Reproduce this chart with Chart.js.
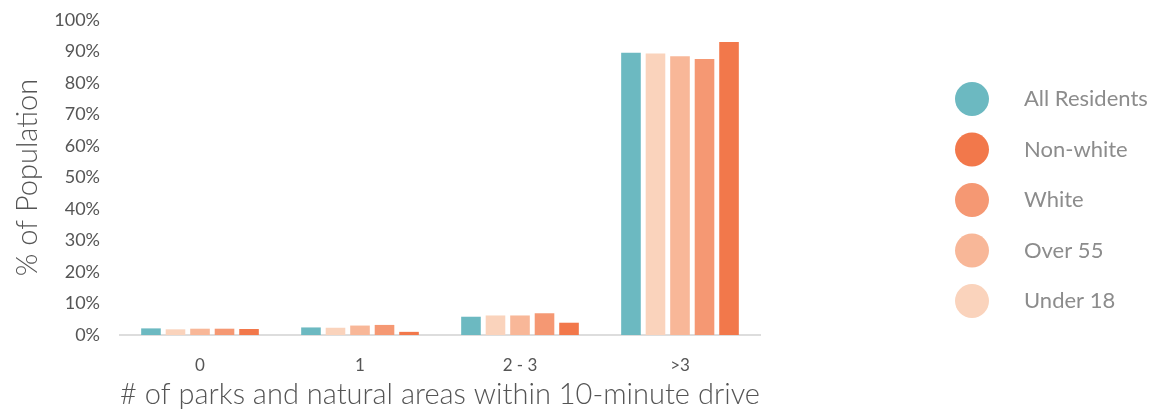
<!DOCTYPE html>
<html>
<head>
<meta charset="utf-8">
<script src="https://cdn.jsdelivr.net/npm/chart.js@4/dist/chart.umd.min.js"></script>
<style>
  body { margin: 0; background: #fff; }
  #wrap { position: relative; width: 1152px; height: 412px; }
</style>
</head>
<body>
<div id="wrap"><canvas id="parksChart"></canvas></div>
<script>
// data
const categories = ['0', '1', '2 - 3', '>3'];
const allResidents = [2.1, 2.4, 5.8, 89.6];
const under18 = [1.8, 2.3, 6.2, 89.4];
const over55 = [2.0, 3.0, 6.2, 88.5];
const white = [2.0, 3.2, 6.9, 87.6];
const nonWhite = [1.9, 1.0, 3.9, 93.0];
const legendOrder = ['All Residents', 'Non-white', 'White', 'Over 55', 'Under 18'];

const FONT = 'Lato';

// legend drawn at the right, big circles
const sideLegend = {
    id: 'sideLegend',
    afterDraw(chart) {
        const ctx = chart.ctx;
        ctx.save();
        legendOrder.forEach(function (name, i) {
            const ds = chart.data.datasets.find(d => d.label === name);
            const y = 99 + i * 50.5;
            ctx.beginPath();
            ctx.arc(972, y, 17, 0, Math.PI * 2);
            ctx.fillStyle = ds.backgroundColor;
            ctx.fill();
            ctx.font = '22px ' + FONT;
            ctx.fillStyle = '#8c8c8c';
            ctx.textBaseline = 'middle';
            ctx.textAlign = 'left';
            ctx.fillText(name, 1024, y);
        });
        ctx.restore();
    }
};

var ctx = document.getElementById('parksChart').getContext('2d');
var myChart = new Chart(ctx, {
    type: 'bar',
    data: {
        labels: categories,
        datasets: [
            { label: 'All Residents', backgroundColor: '#6cb9c1', data: allResidents },
            { label: 'Under 18', backgroundColor: '#fad3bc', data: under18 },
            { label: 'Over 55', backgroundColor: '#f8b798', data: over55 },
            { label: 'White', backgroundColor: '#f59873', data: white },
            { label: 'Non-white', backgroundColor: '#f2784b', data: nonWhite }
        ]
    },
    options: {
        responsive: true,
        maintainAspectRatio: false,
        animation: false,
        layout: { padding: { left: 10, right: 392, top: 20, bottom: 0 } },
        datasets: {
            bar: { categoryPercentage: 0.766, barPercentage: 0.8 }
        },
        plugins: {
            legend: { display: false },
            tooltip: { enabled: false }
        },
        scales: {
            x: {
                grid: { display: false, drawTicks: false },
                border: { display: true, color: '#dddddd', width: 2 },
                ticks: { padding: 20, color: '#555', font: { family: FONT, size: 17 } },
                title: {
                    display: true,
                    text: '# of parks and natural areas within 10-minute drive',
                    color: '#555',
                    font: { family: FONT, size: 30, weight: 300 },
                    padding: { top: 0, bottom: 0 }
                },
                afterFit: function (scale) { scale.height = 77; }
            },
            y: {
                min: 0,
                max: 100,
                grid: { display: false, drawTicks: false },
                border: { display: false },
                ticks: {
                    stepSize: 10,
                    padding: 20,
                    color: '#555',
                    font: { family: FONT, size: 18 },
                    callback: function (value) { return value + '%'; }
                },
                title: {
                    display: true,
                    text: '% of Population',
                    color: '#555',
                    font: { family: FONT, size: 29, weight: 300 },
                    padding: { top: 0, bottom: 0 }
                },
                afterFit: function (scale) {
                    scale.width = 110;
                    scale.paddingTop = 0;
                }
            }
        }
    },
    plugins: [sideLegend]
});
</script>
</body>
</html>
